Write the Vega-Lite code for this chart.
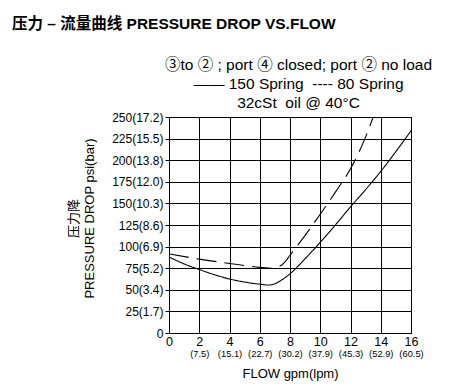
{
  "$schema": "https://vega.github.io/schema/vega-lite/v6.json",
  "width": 242,
  "height": 216,
  "autosize": {"type": "none"},
  "padding": {"left": 169, "top": 117, "right": 42, "bottom": 59},
  "background": "white",
  "config": {
    "font": "Liberation Sans, Noto Sans CJK SC",
    "view": {"stroke": "black", "strokeWidth": 1},
    "axis": {"labelColor": "black", "titleColor": "black", "gridColor": "black", "gridOpacity": 1, "gridWidth": 1, "tickColor": "black"}
  },
  "title": {
    "text": "压力 – 流量曲线 PRESSURE DROP VS.FLOW",
    "anchor": "start",
    "frame": "group",
    "dx": -157,
    "offset": 25,
    "fontSize": 15.5,
    "fontWeight": "bold",
    "color": "black"
  },
  "data": {
    "values": [
      {"gpm": 0, "psi": 88, "series": "150 Spring"},
      {"gpm": 1, "psi": 80, "series": "150 Spring"},
      {"gpm": 2, "psi": 73.5, "series": "150 Spring"},
      {"gpm": 3, "psi": 67.5, "series": "150 Spring"},
      {"gpm": 4, "psi": 62.5, "series": "150 Spring"},
      {"gpm": 5, "psi": 59, "series": "150 Spring"},
      {"gpm": 6, "psi": 56.5, "series": "150 Spring"},
      {"gpm": 6.6, "psi": 55.5, "series": "150 Spring"},
      {"gpm": 7.0, "psi": 57, "series": "150 Spring"},
      {"gpm": 7.5, "psi": 62, "series": "150 Spring"},
      {"gpm": 8, "psi": 68.5, "series": "150 Spring"},
      {"gpm": 9, "psi": 86, "series": "150 Spring"},
      {"gpm": 10, "psi": 105, "series": "150 Spring"},
      {"gpm": 11, "psi": 125, "series": "150 Spring"},
      {"gpm": 12, "psi": 146, "series": "150 Spring"},
      {"gpm": 13, "psi": 166, "series": "150 Spring"},
      {"gpm": 14, "psi": 187, "series": "150 Spring"},
      {"gpm": 15, "psi": 210, "series": "150 Spring"},
      {"gpm": 16, "psi": 234, "series": "150 Spring"},
      {"gpm": 0, "psi": 91.5, "series": "80 Spring"},
      {"gpm": 2, "psi": 85.5, "series": "80 Spring"},
      {"gpm": 4, "psi": 80.5, "series": "80 Spring"},
      {"gpm": 6, "psi": 76, "series": "80 Spring"},
      {"gpm": 6.8, "psi": 75, "series": "80 Spring"},
      {"gpm": 7.3, "psi": 77, "series": "80 Spring"},
      {"gpm": 7.7, "psi": 83, "series": "80 Spring"},
      {"gpm": 8, "psi": 90, "series": "80 Spring"},
      {"gpm": 9, "psi": 113, "series": "80 Spring"},
      {"gpm": 10, "psi": 137.5, "series": "80 Spring"},
      {"gpm": 11, "psi": 163, "series": "80 Spring"},
      {"gpm": 12, "psi": 190, "series": "80 Spring"},
      {"gpm": 12.5, "psi": 207, "series": "80 Spring"},
      {"gpm": 13, "psi": 227, "series": "80 Spring"},
      {"gpm": 13.5, "psi": 250, "series": "80 Spring"}
    ]
  },
  "layer": [
    {
      "mark": {"type": "line", "color": "black", "strokeWidth": 1.1, "interpolate": "monotone", "clip": true},
      "encoding": {
        "x": {
          "field": "gpm", "type": "quantitative",
          "scale": {"domain": [0, 16], "nice": false, "zero": false},
          "axis": {
            "orient": "bottom", "values": [0, 2, 4, 6, 8, 10, 12, 14, 16],
            "title": null, "domain": false, "ticks": false, "tickSize": 0,
            "labelPadding": 2, "labelFontSize": 12.5, "labelOverlap": false,
            "labelFlush": false, "grid": true
          }
        },
        "y": {
          "field": "psi", "type": "quantitative",
          "scale": {"domain": [0, 250], "nice": false},
          "axis": {
            "values": [0, 25, 50, 75, 100, 125, 150, 175, 200, 225, 250],
            "labelExpr": "['0','25(1.7)','50(3.4)','75(5.2)','100(6.9)','125(8.6)','150(10.3)','175(12.0)','200(13.8)','225(15.5)','250(17.2)'][round(datum.value/25)]",
            "labelFontSize": 12, "labelPadding": 2, "tickSize": 4, "domain": false,
            "grid": true, "labelFlush": false, "labelOverlap": false,
            "title": ["压力降", "PRESSURE DROP psi(bar)"],
            "titleFontSize": 13, "titleFontWeight": "normal", "titleLineHeight": 16, "titlePadding": 15,
            "titleY": 101
          }
        },
        "strokeDash": {
          "field": "series", "type": "nominal",
          "scale": {"domain": ["150 Spring", "80 Spring"], "range": [[1, 0], [20, 8]]},
          "legend": null
        }
      }
    },
    {
      "mark": {"type": "point", "opacity": 0},
      "encoding": {
        "x": {
          "field": "gpm", "type": "quantitative",
          "axis": {
            "orient": "bottom", "values": [0, 2, 4, 6, 8, 10, 12, 14, 16],
            "labelExpr": "['','(7.5)','(15.1)','(22.7)','(30.2)','(37.9)','(45.3)','(52.9)','(60.5)'][round(datum.value/2)]",
            "domain": false, "ticks": false, "tickSize": 0, "grid": false,
            "labelPadding": 16.5, "labelFontSize": 9.3, "labelOverlap": false, "labelFlush": false,
            "title": "FLOW gpm(lpm)", "titleFontSize": 13, "titleFontWeight": "normal", "titlePadding": 9
          }
        }
      }
    },
    {
      "mark": {"type": "point", "opacity": 0},
      "encoding": {
        "x": {
          "field": "gpm", "type": "quantitative",
          "axis": {
            "orient": "top", "labels": false, "domain": false, "ticks": false, "grid": false,
            "title": ["③to ② ; port ④ closed; port ② no load", "—— 150 Spring\u00a0\u00a0---- 80 Spring", "32cSt\u00a0\u00a0oil @ 40°C"],
            "titleFontSize": 15.5, "titleFontWeight": "normal", "titleLineHeight": 19, "titlePadding": 7,
            "titleX": 129
          }
        }
      }
    }
  ],
  "resolve": {"axis": {"x": "independent"}}
}
